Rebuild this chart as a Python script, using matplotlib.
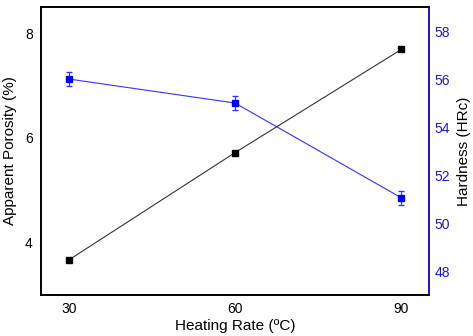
import matplotlib.pyplot as plt

plt.rcParams['font.family'] = ['Liberation Sans', 'DejaVu Sans']

heating_rate = [30, 60, 90]
porosity = [3.67, 5.72, 7.69]
hardness = [56.0, 55.0, 51.05]
hardness_err = [0.3, 0.3, 0.28]

fig = plt.figure(figsize=(4.73, 3.36), dpi=100)
ax = fig.add_axes([0.087, 0.122, 0.82, 0.857])
ax2 = ax.twinx()

ax.plot(heating_rate, porosity, color='#333333', lw=0.8, marker='s', ms=4,
        mfc='black', mec='black')
ax2.errorbar(heating_rate, hardness, yerr=hardness_err, color='#3333ff', lw=0.8,
             marker='s', ms=4, mfc='#0000ee', mec='#0000ee', ecolor='#3333ff',
             elinewidth=0.8, capsize=2.5)

ax.set_xlim(25, 95)
ax.set_ylim(3, 8.5)
ax2.set_ylim(47, 59)
ax.set_xticks(heating_rate)
ax.set_yticks([4, 6, 8])
ax2.set_yticks([48, 50, 52, 54, 56, 58])

ax.tick_params(axis='x', length=0, labelsize=10, pad=5)
ax.tick_params(axis='y', length=0, labelsize=10, pad=6)
ax2.tick_params(length=0, labelsize=10, pad=4, labelcolor='#1a1acc')

ax.set_xlabel('Heating Rate (ºC)', fontsize=11, labelpad=2)
ax.set_ylabel('Apparent Porosity (%)', fontsize=11, labelpad=6)
ax2.set_ylabel('Hardness (HRc)', fontsize=11, labelpad=5)

for s in ax.spines.values():
    s.set_linewidth(1.2)
for s in ax2.spines.values():
    s.set_linewidth(1.2)
ax2.spines['right'].set_color('#1a1acc')

fig.savefig('out.png', dpi=100)
